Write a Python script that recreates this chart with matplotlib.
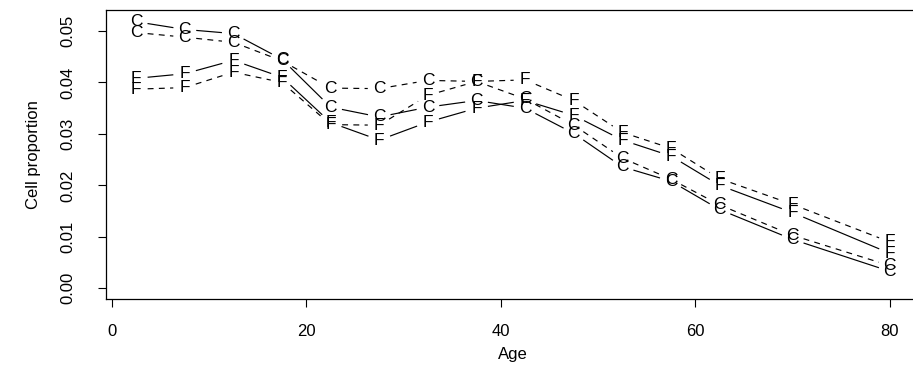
import numpy as np
import matplotlib.pyplot as plt

plt.rcParams['font.family'] = ['Liberation Sans', 'DejaVu Sans']
plt.rcParams['font.size'] = 12

# age groups (x) and cell proportions of the four traces
ages = [2.5, 7.5, 12.5, 17.5, 22.5, 27.5, 32.5, 37.5, 42.5, 47.5, 52.5, 57.5, 62.5, 70, 80]
c_solid = [0.0518, 0.0503, 0.0495, 0.0445, 0.0352, 0.0333, 0.0352, 0.0365, 0.0350,
           0.0301, 0.0236, 0.0208, 0.0153, 0.0095, 0.0033]
c_dashed = [0.0497, 0.0488, 0.0478, 0.0442, 0.0389, 0.0388, 0.0404, 0.0402, 0.0368,
            0.0317, 0.0253, 0.0212, 0.0162, 0.0103, 0.0044]
f_solid = [0.0408, 0.0417, 0.0443, 0.0410, 0.0322, 0.0288, 0.0323, 0.0350, 0.0365,
           0.0336, 0.0288, 0.0257, 0.0200, 0.0147, 0.0068]
f_dashed = [0.0387, 0.0390, 0.0420, 0.0400, 0.0318, 0.0317, 0.0375, 0.0402, 0.0405,
            0.0365, 0.0303, 0.0272, 0.0213, 0.0163, 0.0090]

traces = [
    ("C", c_solid, "-"),
    ("C", c_dashed, (0, (5, 4.5))),
    ("F", f_solid, "-"),
    ("F", f_dashed, (0, (5, 4.5))),
]

GAP = 11.5  # pixels left open around each letter, like R type="b"

fig = plt.figure(figsize=(9.13, 3.88), dpi=100)
ax = fig.add_axes([106 / 913, 89 / 388, 814 / 913, 289 / 388])
ax.set_xlim(-0.6, 83.1)
ax.set_ylim(-0.00208, 0.05408)


def gapped_lines(ax, xs, ys, ls):
    pts = ax.transData.transform(np.column_stack([xs, ys]))
    inv = ax.transData.inverted()
    for p0, p1 in zip(pts[:-1], pts[1:]):
        d = p1 - p0
        length = np.hypot(*d)
        if length <= 2 * GAP:
            continue
        u = d / length
        seg = inv.transform([p0 + u * GAP, p1 - u * GAP])
        ax.plot(seg[:, 0], seg[:, 1], color='black', lw=0.85, ls=ls,
                solid_capstyle='butt', dash_capstyle='butt')


for letter, vals, ls in traces:
    gapped_lines(ax, ages, vals, ls)
    for x, y in zip(ages, vals):
        ax.text(x, y, letter, ha='center', va='center', fontsize=12.5)

ax.set_xticks([0, 20, 40, 60, 80])
ax.set_yticks([0.00, 0.01, 0.02, 0.03, 0.04, 0.05])
ax.set_yticklabels(["0.00", "0.01", "0.02", "0.03", "0.04", "0.05"])
ax.tick_params(direction='out', length=6, width=0.8, colors='black')
ax.tick_params(axis='x', pad=12)
ax.tick_params(axis='y', pad=16, labelrotation=90)
for lab in ax.get_yticklabels():
    lab.set_va('center')

for sp in ax.spines.values():
    sp.set_linewidth(0.9)
ax.spines['right'].set_visible(False)  # box edge falls outside the picture

ax.set_xlabel("Age", labelpad=6)
ax.set_ylabel("Cell proportion", labelpad=14)

fig.savefig("out.png", dpi=100)
